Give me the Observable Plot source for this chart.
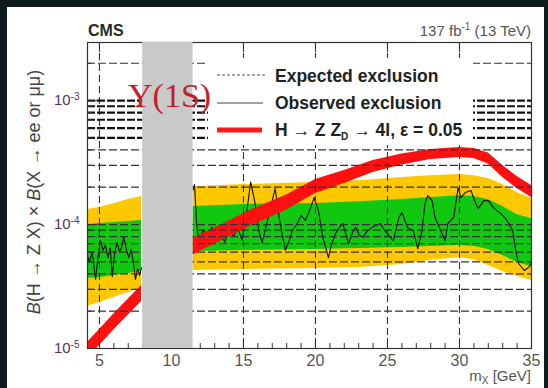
<!DOCTYPE html>
<html>
<head>
<meta charset="utf-8">
<script src="https://cdn.jsdelivr.net/npm/d3@7"></script>
<script src="https://cdn.jsdelivr.net/npm/@observablehq/plot@0.6"></script>
<style>
  html, body { margin: 0; padding: 0; background: #0e1b1d; }
  #wrap { position: relative; width: 548px; height: 388px; overflow: hidden; background: #0e1b1d; }
  #panel { position: absolute; left: 7px; top: 7px; width: 537px; height: 381px; background: #ffffff; }
  #chart { position: absolute; left: 0; top: 0; }
  #overlay { position: absolute; left: 0; top: 0; pointer-events: none; }
</style>
</head>
<body>
<div id="wrap">
  <div id="panel"></div>
  <div id="chart"></div>
  <svg id="overlay" width="548" height="388" xmlns="http://www.w3.org/2000/svg" font-family="'Liberation Sans', Arial, sans-serif">
    <text x="88" y="35.5" font-size="16" font-weight="bold" fill="#2a2a2a">CMS</text>
    <text x="531" y="36" text-anchor="end" font-size="15" fill="#555">137 fb<tspan dy="-6" font-size="10">-1</tspan><tspan dy="6"> (13 TeV)</tspan></text>
    <text transform="translate(40,192) rotate(-90)" text-anchor="middle" font-size="18" fill="#444"><tspan font-style="italic">B</tspan>(H → Z X) × <tspan font-style="italic">B</tspan>(X → ee or μμ)</text>
    <text x="531" y="381" text-anchor="end" font-size="15" fill="#555">m<tspan dy="3" font-size="10">X</tspan><tspan dy="-3"> [GeV]</tspan></text>
    <rect x="208" y="58" width="265" height="87" fill="#ffffff"/>
    <line x1="217" x2="267" y1="75" y2="75" stroke="#555" stroke-width="1.2" stroke-dasharray="3,2"/>
    <text x="275" y="81.5" font-size="17.5" font-weight="bold" fill="#222">Expected exclusion</text>
    <line x1="217" x2="263" y1="103" y2="103" stroke="#444" stroke-width="1.2"/>
    <text x="275" y="108.5" font-size="17.5" font-weight="bold" fill="#222">Observed exclusion</text>
    <line x1="217" x2="262" y1="130" y2="130" stroke="#ff1a1a" stroke-width="5"/>
    <text x="275" y="136" font-size="17.5" font-weight="bold" fill="#222">H <tspan font-weight="normal">→</tspan> Z Z<tspan dy="4" font-size="10">D</tspan><tspan dy="-4"> <tspan font-weight="normal">→</tspan> 4l, ε = 0.05</tspan></text>
    <text x="128" y="107" font-family="'Liberation Serif', 'Times New Roman', serif" font-size="34" fill="#c4202a">Y(1S)</text>
  </svg>
</div>
<script>
// ---- axis ticks / grid ----
const xMajor = [5, 10, 15, 20, 25, 30, 35];
const xMinor = [6, 7, 8, 9, 11, 12, 13, 14, 16, 17, 18, 19, 21, 22, 23, 24, 26, 27, 28, 29, 31, 32, 33, 34];
const xGrid = [5, 10, 15, 20, 25, 30];
const yMajor = [1e-5, 1e-4, 1e-3];
const yMinor = [2e-5, 3e-5, 4e-5, 5e-5, 6e-5, 7e-5, 8e-5, 9e-5, 2e-4, 3e-4, 4e-4, 5e-4, 6e-4, 7e-4, 8e-4, 9e-4, 2e-3];
const yGrid = [2e-5, 3e-5, 4e-5, 5e-5, 6e-5, 7e-5, 8e-5, 9e-5, 1e-4, 2e-4, 3e-4, 4e-4, 2e-3];
const yGridBold = [5e-4, 6e-4, 7e-4, 8e-4, 9e-4, 1e-3];

// ---- excluded Upsilon(1S) region [GeV] ----
const upsilonLo = 8.0;
const upsilonHi = 11.5;

// ---- expected bands, low-mass side ----
const bandLeftX = [4.17, 5, 6, 7, 7.92];
const yellowHiLeft = [1.32e-4, 1.37e-4, 1.47e-4, 1.59e-4, 1.68e-4];
const greenHiLeft = [1.00e-4, 1.02e-4, 1.04e-4, 1.06e-4, 1.08e-4];
const greenLoLeft = [3.67e-5, 3.73e-5, 3.88e-5, 4.03e-5, 4.18e-5];
const yellowLoLeft = [2.18e-5, 2.35e-5, 2.58e-5, 2.83e-5, 3.10e-5];

// ---- expected bands, high-mass side ----
const bandRightX = [11.5, 15, 20, 23, 26, 28, 30, 31, 32, 33, 34, 35];
const yellowHiRight = [2.02e-4, 2.10e-4, 2.18e-4, 2.26e-4, 2.39e-4, 2.48e-4, 2.53e-4, 2.48e-4, 2.35e-4, 2.10e-4, 1.81e-4, 1.62e-4];
const greenHiRight = [1.40e-4, 1.45e-4, 1.48e-4, 1.53e-4, 1.59e-4, 1.65e-4, 1.71e-4, 1.68e-4, 1.59e-4, 1.40e-4, 1.20e-4, 1.12e-4];
const greenLoRight = [6.06e-5, 6.17e-5, 6.29e-5, 6.40e-5, 6.53e-5, 6.65e-5, 6.77e-5, 6.65e-5, 6.29e-5, 5.62e-5, 4.94e-5, 4.58e-5];
const yellowLoRight = [4.26e-5, 4.34e-5, 4.42e-5, 4.50e-5, 4.76e-5, 5.12e-5, 5.42e-5, 5.21e-5, 4.67e-5, 4.18e-5, 3.81e-5, 3.54e-5];

// ---- theory band H -> Z Z_D -> 4l, eps = 0.05 ----
const thLeftX = [4.17, 6, 7.92];
const thLeftHi = [1.12e-5, 1.90e-5, 3.22e-5];
const thLeftLo = [0.83e-5, 1.41e-5, 2.39e-5];
const thRightX = [11.5, 13.5, 15.6, 18, 20, 22, 24, 26, 28, 30, 31, 32, 33, 34, 35];
const thRightHi = [7.78e-5, 1.00e-4, 1.32e-4, 1.73e-4, 2.31e-4, 2.73e-4, 3.28e-4, 3.70e-4, 4.03e-4, 4.18e-4, 4.10e-4, 3.77e-4, 2.99e-4, 2.44e-4, 2.06e-4];
const thRightLo = [5.68e-5, 7.43e-5, 9.82e-5, 1.31e-4, 1.78e-4, 2.14e-4, 2.63e-4, 3.02e-4, 3.34e-4, 3.47e-4, 3.41e-4, 3.08e-4, 2.39e-4, 1.95e-4, 1.65e-4];

// ---- observed exclusion ----
const obsLeftX = [4.17, 4.3, 4.5, 4.73, 4.9, 5.07, 5.25, 5.42, 5.6, 5.75, 5.89, 6.05, 6.23, 6.4, 6.55, 6.69, 6.85, 7.04, 7.2, 7.35, 7.5, 7.65, 7.8, 7.92];
const obsLeftY = [5.6e-5, 5.0e-5, 6.0e-5, 3.6e-5, 5.5e-5, 7.4e-5, 6.2e-5, 6.8e-5, 5.4e-5, 6.5e-5, 3.8e-5, 5.8e-5, 7.2e-5, 6.0e-5, 6.6e-5, 8.0e-5, 6.4e-5, 5.4e-5, 6.3e-5, 5.0e-5, 3.6e-5, 4.4e-5, 3.9e-5, 4.5e-5];
const obsRightX = [11.5, 11.6, 11.75, 11.9, 12.2, 12.5, 12.8, 13.1, 13.4, 13.7, 14.0, 14.3, 14.6, 14.9, 15.2, 15.5, 15.8, 16.05, 16.3, 16.6, 16.9, 17.2, 17.5, 17.9, 18.2, 18.4, 18.7, 19.0, 19.3, 19.6, 19.9, 20.2, 20.5, 20.9, 21.1, 21.4, 21.7, 21.9, 22.1, 22.3, 22.6, 22.8, 23.05, 23.3, 23.6, 24.0, 24.5, 24.8, 25.0, 25.4, 25.8, 26.0, 26.4, 26.8, 27.1, 27.4, 27.6, 27.8, 28.1, 28.3, 28.7, 29.0, 29.2, 29.6, 29.9, 30.1, 30.4, 30.8, 31.1, 31.3, 31.7, 32.0, 32.4, 32.9, 33.3, 33.7, 33.9, 34.1, 34.5, 34.8, 35.0];
const obsRightY = [1.9e-4, 2.1e-4, 1.0e-4, 7.4e-5, 9.0e-5, 7.8e-5, 9.5e-5, 7.6e-5, 8.8e-5, 7.2e-5, 9.2e-5, 8.0e-5, 9.4e-5, 7.5e-5, 1.2e-4, 2.2e-4, 1.5e-4, 9.0e-5, 7.1e-5, 1.0e-4, 1.4e-4, 1.95e-4, 1.1e-4, 6.2e-5, 7.5e-5, 9.0e-5, 1.0e-4, 1.18e-4, 1.08e-4, 1.3e-4, 1.65e-4, 1.3e-4, 8.0e-5, 5.4e-5, 6.8e-5, 8.5e-5, 9.6e-5, 1.02e-4, 8.4e-5, 7.0e-5, 8.8e-5, 9.5e-5, 8.2e-5, 7.9e-5, 8.9e-5, 9.6e-5, 1.02e-4, 9.0e-5, 8.4e-5, 7.4e-5, 1.14e-4, 1.25e-4, 9.4e-5, 8.9e-5, 6.4e-5, 8.9e-5, 1.47e-4, 1.71e-4, 1.56e-4, 1.14e-4, 8.9e-5, 7.4e-5, 1.02e-4, 1.14e-4, 1.98e-4, 1.65e-4, 1.81e-4, 1.88e-4, 1.5e-4, 1.35e-4, 1.56e-4, 1.56e-4, 1.35e-4, 1.22e-4, 1.08e-4, 8.9e-5, 6.2e-5, 4.85e-5, 4.26e-5, 4.5e-5, 4.9e-5];

// ---- build tables ----
const zip = (xs, cols) => xs.map((x, i) => { const r = {x}; for (const k in cols) r[k] = cols[k][i]; return r; });
const bandLeft = zip(bandLeftX, {yLo: yellowLoLeft, gLo: greenLoLeft, gHi: greenHiLeft, yHi: yellowHiLeft});
const bandRight = zip(bandRightX, {yLo: yellowLoRight, gLo: greenLoRight, gHi: greenHiRight, yHi: yellowHiRight});
const thLeft = zip(thLeftX, {lo: thLeftLo, hi: thLeftHi});
const thRight = zip(thRightX, {lo: thRightLo, hi: thRightHi});
const obsLeft = zip(obsLeftX, {v: obsLeftY});
const obsRight = zip(obsRightX, {v: obsRightY});

const YELLOW = "#fdc800", GREEN = "#10c810", RED = "#ff1010", GRAY = "#c9c9c9";
const plotH = 388 - 42 - 40, plotW = 548 - 87 - 17;

const bandMarks = (data) => [
  Plot.areaY(data, {x: "x", y1: "yLo", y2: "yHi", fill: YELLOW}),
  Plot.areaY(data, {x: "x", y1: "gLo", y2: "gHi", fill: GREEN})
];

const chart = Plot.plot({
  width: 548,
  height: 388,
  marginLeft: 87,
  marginRight: 17,
  marginTop: 42,
  marginBottom: 40,
  style: {background: "transparent", fontFamily: "'Liberation Sans', Arial, sans-serif", overflow: "visible"},
  x: {domain: [4.17, 35], axis: null},
  y: {type: "log", domain: [1e-5, 2.94e-3], axis: null},
  marks: [
    ...bandMarks(bandLeft),
    ...bandMarks(bandRight),
    Plot.line(obsLeft, {x: "x", y: "v", stroke: "#111", strokeWidth: 1.1}),
    Plot.line(obsRight, {x: "x", y: "v", stroke: "#111", strokeWidth: 1.1}),
    Plot.areaY(thLeft, {x: "x", y1: "lo", y2: "hi", fill: RED, clip: true}),
    Plot.areaY(thRight, {x: "x", y1: "lo", y2: "hi", fill: RED, clip: true}),
    Plot.ruleX(xGrid, {x: d => d, stroke: "#333", strokeWidth: 1.1, strokeDasharray: "7,4"}),
    Plot.ruleY(yGrid, {y: d => d, stroke: "#333", strokeWidth: 1.2, strokeDasharray: "8,3"}),
    Plot.ruleY(yGridBold, {y: d => d, stroke: "#111", strokeWidth: 2.2, strokeDasharray: "8,2"}),
    Plot.frame({stroke: "#333", strokeWidth: 1.2}),
    Plot.tickX(xMinor, {x: d => d, insetTop: plotH - 5, stroke: "#333"}),
    Plot.tickX(xMajor, {x: d => d, insetTop: plotH - 10, stroke: "#333"}),
    Plot.tickX(xMajor, {x: d => d, insetBottom: plotH - 10, stroke: "#333"}),
    Plot.tickY(yMinor, {y: d => d, insetRight: plotW - 5, stroke: "#333"}),
    Plot.tickY(yMajor, {y: d => d, insetRight: plotW - 10, stroke: "#333"}),
    Plot.rect([[upsilonLo, upsilonHi]], {x1: d => d[0], x2: d => d[1], fill: GRAY}),
    Plot.text(xMajor, {x: d => d, frameAnchor: "bottom", lineAnchor: "top", dy: 6, text: d => String(d), fontSize: 16, fill: "#555"}),
    Plot.text(yMajor, {y: d => d, frameAnchor: "left", textAnchor: "end", dx: -8, text: d => "10^" + Math.round(Math.log10(d)), fontSize: 15, fill: "#553366"})
  ]
});

// superscript exponents on the y tick labels
const NS = "http://www.w3.org/2000/svg";
chart.querySelectorAll("text").forEach(t => {
  const m = /^10\^(-?\d+)$/.exec(t.textContent);
  if (m) {
    t.textContent = "10";
    const s = document.createElementNS(NS, "tspan");
    s.setAttribute("dy", "-0.55em");
    s.setAttribute("font-size", "10");
    s.textContent = m[1];
    t.appendChild(s);
  }
});

document.getElementById("chart").appendChild(chart);
</script>
</body>
</html>
